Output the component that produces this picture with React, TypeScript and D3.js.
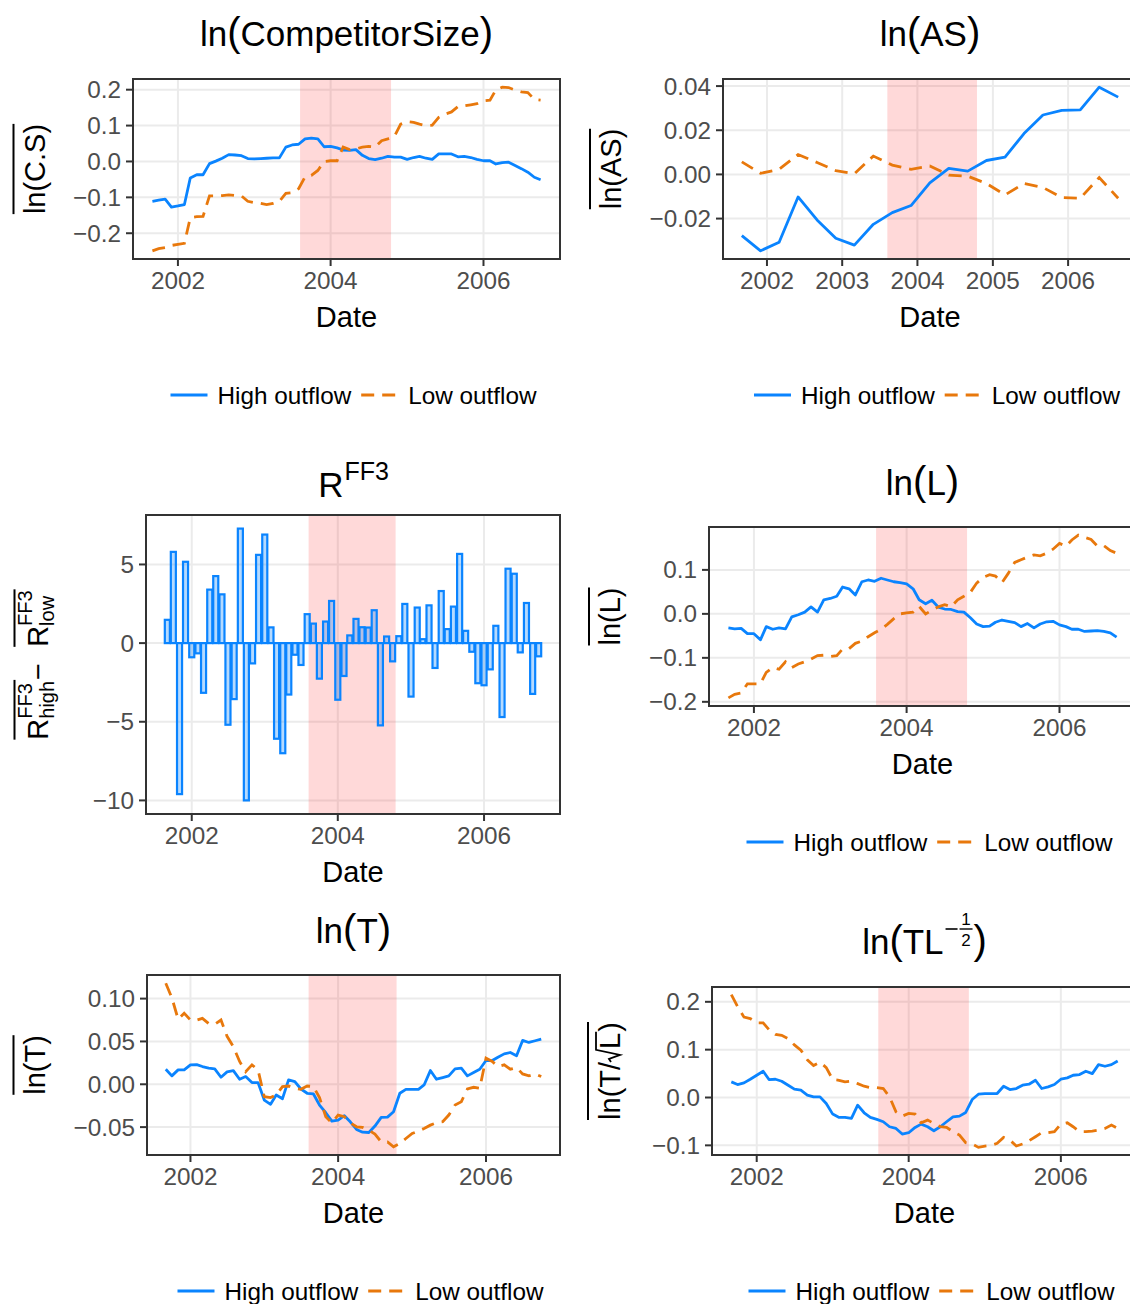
import React from 'react';
import * as d3 from 'd3';

const FONT = '"Liberation Sans", Arial, Helvetica, sans-serif';
const BLUE = '#0a84ff';
const ORANGE = '#e8780c';
const DASH = '13 8';

// monthly observations Sep 2001 .. Oct 2006, quarterly for ln(AS)
const monthDates = d3.timeMonth.range(new Date(2001, 8, 1), new Date(2006, 10, 1));
const quarterDates = d3.range(21).map((i) => new Date(2001, 8 + 3 * i, 1));
const shadeStart = new Date(2003, 7, 8);
const shadeEnd = new Date(2004, 9, 16);
const seriesNames = ['High outflow', 'Low outflow'];

const csHigh = [
  -0.111, -0.108, -0.105, -0.127, -0.124, -0.12, -0.046, -0.037, -0.037, -0.006,
  0.001, 0.009, 0.019, 0.018, 0.016, 0.008, 0.007, 0.008, 0.009, 0.01,
  0.01, 0.04, 0.046, 0.048, 0.063, 0.065, 0.063, 0.041, 0.042, 0.038,
  0.032, 0.031, 0.033, 0.017, 0.008, 0.005, 0.009, 0.014, 0.012, 0.012,
  0.006, 0.011, 0.014, 0.009, 0.006, 0.021, 0.021, 0.021, 0.013, 0.014,
  0.011, 0.006, 0.002, 0.002, -0.007, -0.003, -0.002, -0.011, -0.02, -0.03,
  -0.044, -0.051,
];
const csLow = [
  -0.249, -0.243, -0.24, -0.234, -0.231, -0.228, -0.157, -0.154, -0.153, -0.096,
  -0.096, -0.095, -0.093, -0.095, -0.096, -0.111, -0.115, -0.117, -0.12, -0.117,
  -0.111, -0.089, -0.087, -0.076, -0.043, -0.039, -0.025, 0.0, 0.002, 0.002,
  0.04, 0.033, 0.035, 0.04, 0.042, 0.04, 0.058, 0.063, 0.07, 0.104,
  0.111, 0.109, 0.104, 0.1, 0.101, 0.123, 0.132, 0.138, 0.153, 0.155,
  0.158, 0.161, 0.169, 0.171, 0.199, 0.207, 0.206, 0.199, 0.194, 0.192,
  0.173, 0.171,
];

const asHigh = [
  -0.0277, -0.0346, -0.0307, -0.0102, -0.0206, -0.0289, -0.032, -0.0226, -0.0173, -0.0141,
  -0.0038, 0.0027, 0.0015, 0.0063, 0.0078, 0.0185, 0.0269, 0.029, 0.0292, 0.0395, 0.035,
];
const asLow = [
  0.0057, 0.0005, 0.0023, 0.009, 0.0054, 0.0017, 0.0003, 0.0083, 0.0042, 0.0023,
  0.0038, -0.0003, -0.0008, -0.0041, -0.0093, -0.0041, -0.0059, -0.0105, -0.0108, -0.0014, -0.0108,
];

const ff3Diff = [
  1.48, 5.8, -9.6, 5.17, -0.9, -0.65, -3.16, 3.4, 4.26, 3.1,
  -5.19, -3.56, 7.28, -10.0, -1.29, 5.61, 6.9, 1.0, -6.08, -7.0,
  -3.27, -0.74, -1.39, 1.84, 1.24, -2.26, 1.37, 2.68, -3.6, -2.09,
  0.49, 1.54, 1.01, 0.99, 2.09, -5.23, 0.42, -1.16, 0.44, 2.49,
  -3.4, 2.26, 0.25, 2.4, -1.58, 3.31, 0.89, 2.32, 5.67, 0.78,
  -0.55, -2.55, -2.68, -1.67, 1.1, -4.7, 4.73, 4.41, -0.59, 2.55,
  -3.23, -0.84,
];

const lHigh = [
  -0.032, -0.034, -0.033, -0.045, -0.045, -0.059, -0.029, -0.035, -0.032, -0.034,
  -0.007, -0.002, 0.004, 0.016, 0.004, 0.032, 0.035, 0.04, 0.061, 0.057,
  0.043, 0.073, 0.077, 0.074, 0.081, 0.077, 0.073, 0.071, 0.068, 0.057,
  0.032, 0.023, 0.031, 0.015, 0.011, 0.01, 0.005, 0.004, -0.009, -0.023,
  -0.029, -0.028, -0.019, -0.014, -0.017, -0.02, -0.029, -0.022, -0.032, -0.023,
  -0.018, -0.017, -0.025, -0.029, -0.035, -0.035, -0.04, -0.039, -0.038, -0.04,
  -0.043, -0.053,
];
const lLow = [
  -0.191, -0.183, -0.18, -0.159, -0.159, -0.159, -0.133, -0.122, -0.126, -0.109,
  -0.122, -0.114, -0.109, -0.103, -0.095, -0.094, -0.097, -0.095, -0.08, -0.079,
  -0.067, -0.062, -0.052, -0.043, -0.035, -0.024, -0.011, 0.0, 0.002, 0.004,
  0.017, 0.0, 0.008, 0.016, 0.021, 0.016, 0.032, 0.04, 0.049, 0.07,
  0.083, 0.089, 0.086, 0.071, 0.092, 0.117, 0.123, 0.129, 0.134, 0.132,
  0.138, 0.147, 0.16, 0.154, 0.168, 0.179, 0.174, 0.169, 0.154, 0.155,
  0.144, 0.138,
];

const tHigh = [
  0.0176, 0.0098, 0.0168, 0.0168, 0.0227, 0.023, 0.0207, 0.0188, 0.018, 0.0082,
  0.0145, 0.016, 0.0059, 0.009, 0.002, 0.002, -0.0184, -0.0234, -0.0125, -0.0168,
  0.0051, 0.0031, -0.0055, -0.0105, -0.0113, -0.0242, -0.0332, -0.043, -0.0418, -0.0367,
  -0.0438, -0.0527, -0.0559, -0.0563, -0.0488, -0.0387, -0.0383, -0.032, -0.0105, -0.0059,
  -0.0059, -0.0059, -0.0008, 0.016, 0.0059, 0.0078, 0.0098, 0.018, 0.0188, 0.0098,
  0.0137, 0.0176, 0.0277, 0.0277, 0.0316, 0.0355, 0.0371, 0.0332, 0.0512, 0.0488,
  0.0508, 0.0527,
];
const tLow = [
  0.118, 0.101, 0.076, 0.083, 0.075, 0.075, 0.077, 0.071, 0.07, 0.075,
  0.056, 0.044, 0.0266, 0.0148, 0.0227, 0.0168, -0.0145, -0.0156, -0.0125, -0.0027,
  -0.002, -0.0047, -0.0059, -0.002, -0.0027, -0.0156, -0.0379, -0.0449, -0.0359, -0.0379,
  -0.0449, -0.0496, -0.0504, -0.0535, -0.0582, -0.0672, -0.0672, -0.073, -0.0691, -0.0633,
  -0.0574, -0.0547, -0.0516, -0.0477, -0.0449, -0.0438, -0.0359, -0.0242, -0.0203, -0.0055,
  -0.0035, -0.0047, 0.0305, 0.0266, 0.0207, 0.0227, 0.0176, 0.0195, 0.0121, 0.0098,
  0.0121, 0.009,
];

const tlHigh = [
  0.0326, 0.0271, 0.0306, 0.0382, 0.0465, 0.0549, 0.0375, 0.0382, 0.034, 0.0257,
  0.0174, 0.0153, 0.0049, 0.0014, 0.0014, -0.0125, -0.0347, -0.0417, -0.0417, -0.0438,
  -0.016, -0.0319, -0.0417, -0.0458, -0.0507, -0.0611, -0.0646, -0.0764, -0.0736, -0.0625,
  -0.0556, -0.0611, -0.0694, -0.0611, -0.0507, -0.0403, -0.0389, -0.0313, -0.0042, 0.0069,
  0.0083, 0.0083, 0.0083, 0.0236, 0.0167, 0.0188, 0.0257, 0.0278, 0.0361, 0.0188,
  0.0222, 0.0271, 0.0382, 0.041, 0.0465, 0.0479, 0.0549, 0.05, 0.0688, 0.0653,
  0.0688, 0.0764,
];
const tlLow = [
  0.215, 0.19, 0.168, 0.165, 0.156, 0.156, 0.142, 0.132, 0.13, 0.123,
  0.11, 0.099, 0.079, 0.067, 0.074, 0.0625, 0.0375, 0.036, 0.0326, 0.034,
  0.029, 0.0236, 0.0208, 0.0208, 0.0188, 0.0014, -0.0299, -0.0389, -0.0333, -0.0347,
  -0.0528, -0.0472, -0.0542, -0.0611, -0.0625, -0.0715, -0.0785, -0.0944, -0.0972, -0.1042,
  -0.1014, -0.1, -0.0958, -0.0833, -0.0889, -0.1014, -0.0972, -0.0903, -0.0819, -0.0736,
  -0.0736, -0.0715, -0.0556, -0.0528, -0.0611, -0.0715, -0.0715, -0.0701, -0.068, -0.0646,
  -0.0576, -0.0646,
];

const yearTicks = [2002, 2004, 2006].map((y) => new Date(y, 0, 1));
const allYearTicks = [2002, 2003, 2004, 2005, 2006].map((y) => new Date(y, 0, 1));

// text measuring
const ctx = document.createElement('canvas').getContext('2d')!;
function tw(s: string, size: number) {
  ctx.font = `${size}px "Liberation Sans"`;
  return ctx.measureText(s).width;
}

const TICK_FS = 24.3;
const AXIS_FS = 29;
const TITLE_FS = 35;
const PAREN_FS = 40;
const LW = 2.8;
const BAR_W = 25.2 * 864e5;

type Box = { l: number; r: number; t: number; b: number };

function Panel(props: {
  box: Box;
  dates: Date[];
  high?: number[];
  low?: number[];
  bars?: number[];
  yTicks: number[];
  yFmt: (v: number) => string;
  xTicks: Date[];
  legend?: boolean;
}) {
  const { box, dates, high, low, bars, yTicks, yFmt, xTicks, legend } = props;
  const { l, r, t, b } = box;
  let x0 = +d3.min(dates)!;
  let x1 = +d3.max(dates)!;
  if (bars) {
    x0 -= BAR_W / 2;
    x1 += BAR_W / 2;
  }
  const xp = (x1 - x0) * 0.05;
  const x = d3.scaleTime().domain([new Date(x0 - xp), new Date(x1 + xp)]).range([l, r]);
  const vals = bars ? [...bars, 0] : [...high!, ...low!];
  const [y0, y1] = d3.extent(vals) as [number, number];
  const yp = (y1 - y0) * 0.05;
  const y = d3.scaleLinear().domain([y0 - yp, y1 + yp]).range([b, t]);
  const line = d3
    .line<number>()
    .x((_, i) => x(dates[i]))
    .y((d) => y(d));
  const cx = (l + r) / 2;
  const fmtYear = d3.timeFormat('%Y');

  return (
    <g>
      <rect x={l} y={t} width={r - l} height={b - t} fill="#fff" />
      {yTicks.map((v) => (
        <line key={'gy' + v} x1={l} x2={r} y1={y(v)} y2={y(v)} stroke="#ebebeb" strokeWidth={2} />
      ))}
      {xTicks.map((d) => (
        <line key={'gx' + +d} x1={x(d)} x2={x(d)} y1={t} y2={b} stroke="#ebebeb" strokeWidth={2} />
      ))}
      <rect
        x={x(shadeStart)}
        y={t}
        width={x(shadeEnd) - x(shadeStart)}
        height={b - t}
        fill="red"
        fillOpacity={0.15}
      />
      {bars &&
        bars.map((v, i) => {
          const xc = x(dates[i]);
          const w = x(new Date(+dates[i] + BAR_W / 2)) - x(new Date(+dates[i] - BAR_W / 2));
          return (
            <rect
              key={i}
              x={xc - w / 2}
              y={Math.min(y(v), y(0))}
              width={w}
              height={Math.abs(y(v) - y(0))}
              fill={BLUE}
              fillOpacity={0.3}
              stroke={BLUE}
              strokeWidth={2.2}
            />
          );
        })}
      {high && <path d={line(high)!} fill="none" stroke={BLUE} strokeWidth={LW} strokeLinejoin="round" />}
      {low && <path d={line(low)!} fill="none" stroke={ORANGE} strokeWidth={LW} strokeDasharray={DASH} />}
      <rect x={l} y={t} width={r - l} height={b - t} fill="none" stroke="#333" strokeWidth={2} />
      {yTicks.map((v) => (
        <g key={'ty' + v}>
          <line x1={l - 7} x2={l} y1={y(v)} y2={y(v)} stroke="#333" strokeWidth={2} />
          <text x={l - 12} y={y(v)} dy="0.35em" textAnchor="end" fontSize={TICK_FS} fill="#4d4d4d">
            {yFmt(v)}
          </text>
        </g>
      ))}
      {xTicks.map((d) => (
        <g key={'tx' + +d}>
          <line x1={x(d)} x2={x(d)} y1={b} y2={b + 7} stroke="#333" strokeWidth={2} />
          <text x={x(d)} y={b + 30} textAnchor="middle" fontSize={TICK_FS} fill="#4d4d4d">
            {fmtYear(d)}
          </text>
        </g>
      ))}
      <text x={cx} y={b + 68} textAnchor="middle" fontSize={AXIS_FS}>
        Date
      </text>
      {legend && <Legend cx={cx + 7} cy={b + 136} />}
    </g>
  );
}

function Legend({ cx, cy }: { cx: number; cy: number }) {
  const key = 37;
  const gap = 10;
  const w1 = tw(seriesNames[0], TICK_FS);
  const w2 = tw(seriesNames[1], TICK_FS);
  const total = key + gap + w1 + gap + key + gap + w2;
  const xa = cx - total / 2;
  const xb = xa + key + gap + w1 + gap;
  return (
    <g fontSize={TICK_FS}>
      <line x1={xa} x2={xa + key} y1={cy} y2={cy} stroke={BLUE} strokeWidth={LW} />
      <text x={xa + key + gap} y={cy} dy="0.35em">
        {seriesNames[0]}
      </text>
      <line x1={xb} x2={xb + key} y1={cy} y2={cy} stroke={ORANGE} strokeWidth={LW} strokeDasharray={DASH} />
      <text x={xb + key + gap} y={cy} dy="0.35em">
        {seriesNames[1]}
      </text>
    </g>
  );
}

function LnTitle({ cx, y, inner }: { cx: number; y: number; inner: string }) {
  return (
    <text x={cx} y={y} textAnchor="middle" fontSize={TITLE_FS}>
      ln<tspan fontSize={PAREN_FS}>(</tspan>
      {inner}
      <tspan fontSize={PAREN_FS}>)</tspan>
    </text>
  );
}

function RTitle({ cx, y }: { cx: number; y: number }) {
  const wR = tw('R', TITLE_FS);
  const W = wR + tw('FF3', 25);
  const s = cx - W / 2;
  return (
    <g>
      <text x={s} y={y} fontSize={TITLE_FS}>R</text>
      <text x={s + wR + 1} y={y - 17} fontSize={25}>FF3</text>
    </g>
  );
}

function TLTitle({ cx, y }: { cx: number; y: number }) {
  const wLn = tw('ln', TITLE_FS);
  const wP = tw('(', PAREN_FS);
  const wTL = tw('TL', TITLE_FS);
  const wC = tw(')', PAREN_FS);
  const minusW = 14;
  const fracW = 13;
  const W = wLn + wP + wTL + 2 + minusW + fracW + 1 + wC;
  const s = cx - W / 2;
  const xm = s + wLn + wP + wTL + 2;
  const xf = xm + minusW;
  return (
    <g>
      <text x={s} y={y} fontSize={TITLE_FS}>
        ln<tspan fontSize={PAREN_FS}>(</tspan>TL
      </text>
      <line x1={xm} x2={xm + minusW - 2} y1={y - 25} y2={y - 25} stroke="#000" strokeWidth={1.6} />
      <line x1={xf} x2={xf + fracW} y1={y - 25} y2={y - 25} stroke="#000" strokeWidth={1.4} />
      <text x={xf + fracW / 2} y={y - 29} textAnchor="middle" fontSize={17}>1</text>
      <text x={xf + fracW / 2} y={y - 8} textAnchor="middle" fontSize={17}>2</text>
      <text x={xf + fracW + 1} y={y} fontSize={PAREN_FS}>)</text>
    </g>
  );
}

function LnYLabel({ x, cy, inner }: { x: number; cy: number; inner: string }) {
  const s = `ln(${inner})`;
  const w = tw(s, AXIS_FS);
  return (
    <g transform={`translate(${x},${cy}) rotate(-90)`}>
      <text textAnchor="middle" fontSize={AXIS_FS}>{s}</text>
      <line x1={-w / 2} x2={w / 2} y1={-31} y2={-31} stroke="#000" strokeWidth={2} />
    </g>
  );
}

function SqrtYLabel({ x, cy }: { x: number; cy: number }) {
  const a = 'ln(T/';
  const wA = tw(a, AXIS_FS);
  const wL = tw('L', AXIS_FS);
  const wC = tw(')', AXIS_FS);
  const rad = 13;
  const W = wA + rad + wL + 1 + wC;
  const s = -W / 2;
  const xr = s + wA;
  const xl = xr + rad;
  return (
    <g transform={`translate(${x},${cy}) rotate(-90)`} fontSize={AXIS_FS}>
      <text x={s}>{a}</text>
      <path
        d={`M${xr},-9 L${xr + 3},-11 L${xr + 7},0 L${xr + 12},-24 L${xl + wL + 1},-24`}
        fill="none"
        stroke="#000"
        strokeWidth={1.8}
      />
      <text x={xl}>L</text>
      <text x={xl + wL + 1}>)</text>
      <line x1={s} x2={s + W} y1={-32} y2={-32} stroke="#000" strokeWidth={2} />
    </g>
  );
}

function RYLabel({ x, cy }: { x: number; cy: number }) {
  const ss = 20;
  const wR = tw('R', AXIS_FS);
  const wFF = tw('FF3', ss);
  const g1 = wR + Math.max(wFF, tw('high', ss)) + 1;
  const g2 = wR + Math.max(wFF, tw('low', ss)) + 1;
  const wM = tw(' \u2212 ', AXIS_FS);
  const W = g1 + wM + g2;
  const s = -W / 2;
  const s2 = s + g1 + wM;
  return (
    <g transform={`translate(${x},${cy}) rotate(-90)`} fontSize={AXIS_FS}>
      <text x={s}>R</text>
      <text x={s + wR} y={-16} fontSize={ss}>FF3</text>
      <text x={s + wR} y={6} fontSize={ss}>high</text>
      <line x1={s} x2={s + g1} y1={-33} y2={-33} stroke="#000" strokeWidth={2} />
      <text x={s + g1}>{' \u2212 '}</text>
      <text x={s2}>R</text>
      <text x={s2 + wR} y={-16} fontSize={ss}>FF3</text>
      <text x={s2 + wR} y={6} fontSize={ss}>low</text>
      <line x1={s2} x2={s2 + g2} y1={-33} y2={-33} stroke="#000" strokeWidth={2} />
    </g>
  );
}

const B1: Box = { l: 133, r: 560, t: 79, b: 259 };
const B2: Box = { l: 723, r: 1137, t: 79, b: 259 };
const B3: Box = { l: 146, r: 560, t: 515, b: 814 };
const B4: Box = { l: 709, r: 1136, t: 527, b: 706 };
const B5: Box = { l: 147, r: 560, t: 975, b: 1155 };
const B6: Box = { l: 712, r: 1137, t: 987, b: 1155 };

const mid = (bx: Box) => (bx.l + bx.r) / 2;
const vmid = (bx: Box) => (bx.t + bx.b) / 2;

export default function App() {
  const f1 = d3.format('.1f');
  const f2 = d3.format('.2f');
  const f0 = d3.format('d');
  return (
    <svg
      width={1130}
      height={1304}
      style={{ position: 'absolute', left: 0, top: 0, display: 'block' }}
      fontFamily={FONT}
    >
      <rect width={1130} height={1304} fill="#fff" />

      <LnTitle cx={mid(B1)} y={46} inner="CompetitorSize" />
      <LnYLabel x={44.5} cy={vmid(B1)} inner="C.S" />
      <Panel box={B1} dates={monthDates} high={csHigh} low={csLow} yTicks={[-0.2, -0.1, 0, 0.1, 0.2]} yFmt={f1} xTicks={yearTicks} legend />

      <LnTitle cx={mid(B2)} y={46} inner="AS" />
      <LnYLabel x={621} cy={vmid(B2)} inner="AS" />
      <Panel box={B2} dates={quarterDates} high={asHigh} low={asLow} yTicks={[-0.02, 0, 0.02, 0.04]} yFmt={f2} xTicks={allYearTicks} legend />

      <RTitle cx={mid(B3)} y={497} />
      <RYLabel x={47.5} cy={vmid(B3)} />
      <Panel box={B3} dates={monthDates} bars={ff3Diff} yTicks={[-10, -5, 0, 5]} yFmt={f0} xTicks={yearTicks} />

      <LnTitle cx={mid(B4)} y={495} inner="L" />
      <LnYLabel x={620} cy={vmid(B4)} inner="L" />
      <Panel box={B4} dates={monthDates} high={lHigh} low={lLow} yTicks={[-0.2, -0.1, 0, 0.1]} yFmt={f1} xTicks={yearTicks} legend />

      <LnTitle cx={mid(B5)} y={943} inner="T" />
      <LnYLabel x={44.5} cy={vmid(B5)} inner="T" />
      <Panel box={B5} dates={monthDates} high={tHigh} low={tLow} yTicks={[-0.05, 0, 0.05, 0.1]} yFmt={f2} xTicks={yearTicks} legend />

      <TLTitle cx={mid(B6)} y={954} />
      <SqrtYLabel x={620} cy={vmid(B6)} />
      <Panel box={B6} dates={monthDates} high={tlHigh} low={tlLow} yTicks={[-0.1, 0, 0.1, 0.2]} yFmt={f1} xTicks={yearTicks} legend />
    </svg>
  );
}
